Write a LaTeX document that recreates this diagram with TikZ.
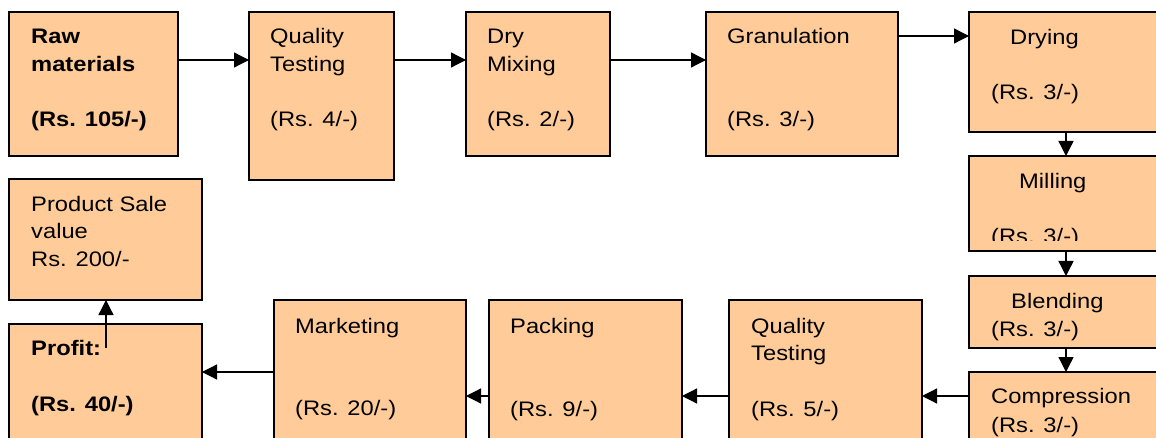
\documentclass[tikz,border=0pt]{standalone}
\usepackage{fontspec}
\setmainfont{Liberation Sans}[FakeStretch=1.13]
\usetikzlibrary{arrows.meta}
\definecolor{peach}{HTML}{FFCC99}
\tikzset{
  box/.style={draw=black, line width=1.4pt, fill=peach, anchor=north west, inner sep=0pt, outer sep=0pt},
  txt/.style={anchor=base west, inner sep=0pt, font=\fontsize{21}{25}\selectfont},
  btxt/.style={anchor=base west, inner sep=0pt, font=\fontsize{21}{25}\selectfont\bfseries},
  arr/.style={line width=1.3pt, -{Triangle[length=15pt,width=15pt]}}
}
\begin{document}
\begin{tikzpicture}[x=1pt,y=-1pt]
\clip (0,0) rectangle (1156,438);
\fill[white] (0,0) rectangle (1156,438);
% boxes
\node[box, minimum width=169pt, minimum height=144pt] (raw) at (9,12) {};
\node[box, minimum width=145pt, minimum height=168pt] (qt1) at (249,12) {};
\node[box, minimum width=144pt, minimum height=144pt] (dry) at (466,12) {};
\node[box, minimum width=192pt, minimum height=144pt] (gran) at (706,12) {};
\node[box, minimum width=201pt, minimum height=120pt] (drying) at (969,12) {};
\node[box, minimum width=201pt, minimum height=95pt] (mill) at (969,156) {};
\node[box, minimum width=201pt, minimum height=72pt] (blend) at (969,276) {};
\node[box, minimum width=201pt, minimum height=80pt] (comp) at (969,372) {};
\node[box, minimum width=193pt, minimum height=152pt] (qt2) at (729,300) {};
\node[box, minimum width=193pt, minimum height=152pt] (pack) at (489,300) {};
\node[box, minimum width=192pt, minimum height=152pt] (mkt) at (274,300) {};
\node[box, minimum width=193pt, minimum height=128pt] (profit) at (9,324) {};
\node[box, minimum width=193pt, minimum height=121pt] (sale) at (9,179) {};
% texts
\node[btxt] (raw-a) at (31,44) {Raw};
\node[btxt] (raw-b) at (31,72) {materials};
\node[btxt] (raw-c) at (31,127) {(Rs. 105/-)};
\node[txt] (qt1-a) at (270,44) {Quality};
\node[txt] (qt1-b) at (270,72) {Testing};
\node[txt] (qt1-c) at (270,127) {(Rs. 4/-)};
\node[txt] (dry-a) at (487,44) {Dry};
\node[txt] (dry-b) at (487,72) {Mixing};
\node[txt] (dry-c) at (487,127) {(Rs. 2/-)};
\node[txt] (gran-a) at (727,44) {Granulation};
\node[txt] (gran-b) at (727,127) {(Rs. 3/-)};
\node[txt] (drying-a) at (1010,45) {Drying};
\node[txt] (drying-b) at (991,100) {(Rs. 3/-)};
\node[txt] (mill-a) at (1019,189) {Milling};
\begin{scope}
\clip (960,150) rectangle (1160,241);
\node[txt] (mill-b) at (991,244) {(Rs. 3/-)};
\end{scope}
\node[txt] (blend-a) at (1011,308) {Blending};
\node[txt] (blend-b) at (991,336) {(Rs. 3/-)};
\node[txt] (comp-a) at (991,403) {Compression};
\node[txt] (comp-b) at (991,432) {(Rs. 3/-)};
\node[txt] (qt2-a) at (751,333) {Quality};
\node[txt] (qt2-b) at (751,360) {Testing};
\node[txt] (qt2-c) at (751,416) {(Rs. 5/-)};
\node[txt] (pack-a) at (510,333) {Packing};
\node[txt] (pack-b) at (510,416) {(Rs. 9/-)};
\node[txt] (mkt-a) at (295,333) {Marketing};
\node[txt] (mkt-b) at (295,415) {(Rs. 20/-)};
\node[btxt] (profit-a) at (31,355) {Profit:};
\node[btxt] (profit-b) at (31,411) {(Rs. 40/-)};
\node[txt] (sale-a) at (31,212) {Product Sale};
\node[txt] (sale-b) at (31,239) {value};
\node[txt] (sale-c) at (31,267) {Rs. 200/-};
% connectors
\draw[arr] ([yshift=-48pt]raw.north east) -- ([yshift=-48pt]qt1.north west);
\draw[arr] ([yshift=-48pt]qt1.north east) -- ([yshift=-48pt]dry.north west);
\draw[arr] ([yshift=-48pt]dry.north east) -- ([yshift=-48pt]gran.north west);
\draw[arr] ([yshift=-24pt]gran.north east) -- ([yshift=-24pt]drying.north west);
\draw[arr] ([xshift=97pt]drying.south west) -- ([xshift=97pt]mill.north west);
\draw[arr] ([xshift=97pt]mill.south west) -- ([xshift=97pt]blend.north west);
\draw[arr] ([xshift=97pt]blend.south west) -- ([xshift=97pt]comp.north west);
\draw[arr] ([yshift=-24pt]comp.north west) -- ([yshift=-96pt]qt2.north east);
\draw[arr] ([yshift=-96pt]qt2.north west) -- ([yshift=-96pt]pack.north east);
\draw[arr] ([yshift=-96pt]pack.north west) -- ([yshift=-96pt]mkt.north east);
\draw[arr] ([yshift=-72pt]mkt.north west) -- ([yshift=-48pt]profit.north east);
\draw[arr] ([xshift=97pt,yshift=-24pt]profit.north west) -- ([xshift=97pt]sale.south west);
\end{tikzpicture}
\end{document}
